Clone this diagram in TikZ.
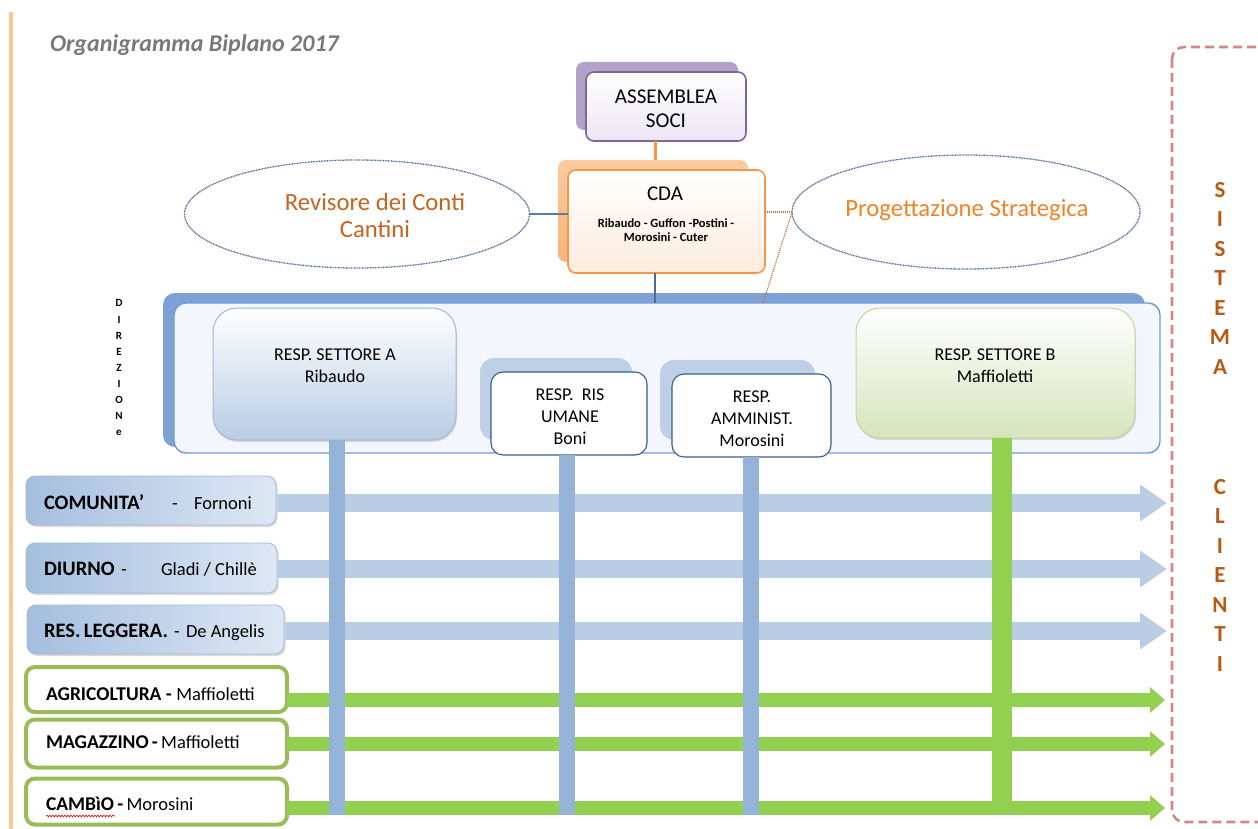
\documentclass[tikz,border=0pt]{standalone}
\usepackage{fontspec}
\setmainfont{Carlito}
\usetikzlibrary{shapes.geometric,arrows.meta,shadows,decorations.pathmorphing}
\definecolor{titlegray}{RGB}{120,120,125}
\definecolor{lineorange}{RGB}{255,200,145}
\definecolor{purpB}{RGB}{128,100,162}
\definecolor{purpS}{RGB}{179,162,199}
\definecolor{purpL}{RGB}{236,230,244}
\definecolor{orgB}{RGB}{247,150,70}
\definecolor{orgS}{RGB}{250,180,120}
\definecolor{orgL}{RGB}{253,236,222}
\definecolor{ellB}{RGB}{80,105,145}
\definecolor{revtxt}{RGB}{197,100,30}
\definecolor{progtxt}{RGB}{240,130,40}
\definecolor{dirB}{RGB}{111,155,209}
\definecolor{dirS}{RGB}{126,161,214}
\definecolor{dirF}{RGB}{243,246,252}
\definecolor{saB}{RGB}{160,185,215}
\definecolor{saL}{RGB}{185,205,229}
\definecolor{ruB}{RGB}{56,93,138}
\definecolor{ruS}{RGB}{190,208,230}
\definecolor{sbB}{RGB}{195,214,155}
\definecolor{sbL}{RGB}{215,228,189}
\definecolor{barblue}{RGB}{149,179,215}
\definecolor{arrblue}{RGB}{185,205,229}
\definecolor{grn}{RGB}{146,208,80}
\definecolor{grnB}{RGB}{155,187,89}
\definecolor{rowL}{RGB}{165,190,222}
\definecolor{rowR}{RGB}{222,232,244}
\definecolor{redD}{RGB}{212,135,135}
\definecolor{sistxt}{RGB}{185,90,20}
\definecolor{cnbrown}{RGB}{190,120,70}
\tikzset{
  base/.style={inner sep=0pt, outer sep=0pt},
  ttl/.style={base, anchor=west, font=\fontsize{24}{28}\selectfont\bfseries\itshape, text=titlegray},
  bigtxt/.style={base, align=center, font=\fontsize{21}{24}\selectfont},
  smalltxt/.style={base, align=center, font=\fontsize{12.5}{14.5}\selectfont\bfseries},
  midtxt/.style={base, align=center, font=\fontsize{18}{22}\selectfont},
  elltxt/.style={base, align=center, font=\fontsize{24.7}{27}\selectfont},
  rowbold/.style={base, anchor=base west, font=\fontsize{20.5}{22}\selectfont\bfseries},
  rowname/.style={base, anchor=base west, font=\fontsize{18.5}{22}\selectfont},
  vlet/.style={base, font=\fontsize{23}{24}\selectfont\bfseries, text=sistxt},
  dlet/.style={base, font=\fontsize{11}{12}\selectfont\bfseries},
  ellnode/.style={base, ellipse, draw=ellB, line width=1.3pt, dash pattern=on 0.9pt off 0.7pt, fill=white},
  purpshadow/.style={base, rectangle, rounded corners=8pt, fill=purpS},
  purpbox/.style={base, rectangle, rounded corners=8pt, draw=purpB, line width=1.6pt, top color=white, bottom color=purpL},
  orgshadow/.style={base, rectangle, rounded corners=8pt, top color=orgS!70, bottom color=orgS},
  orgbox/.style={base, rectangle, rounded corners=8pt, draw=orgB, line width=1.6pt, top color=white, bottom color=orgL},
  dirback/.style={base, rectangle, rounded corners=12pt, fill=dirS},
  dirfront/.style={base, rectangle, rounded corners=12pt, draw=dirB, line width=1.4pt, fill=dirF},
  sabox/.style={base, rectangle, rounded corners=24pt, draw=saB, line width=1pt, top color=white, bottom color=saL, drop shadow={opacity=0.25, shadow xshift=1pt, shadow yshift=-2pt}},
  sbbox/.style={base, rectangle, rounded corners=24pt, draw=sbB, line width=1pt, top color=white, bottom color=sbL, drop shadow={opacity=0.25, shadow xshift=1pt, shadow yshift=-2pt}},
  smshadow/.style={base, rectangle, rounded corners=14pt, fill=ruS},
  smbox/.style={base, rectangle, rounded corners=12pt, draw=ruB, line width=1.1pt, fill=white},
  rowbox/.style={base, rectangle, rounded corners=9pt, draw=saB, line width=0.8pt, left color=rowL, right color=rowR, drop shadow={opacity=0.3, shadow xshift=1.5pt, shadow yshift=-2pt}},
  grnbox/.style={base, rectangle, rounded corners=9pt, draw=grnB, line width=4pt, fill=white},
  barrow/.style={line width=18pt, arrblue, -{Triangle[length=27pt, width=35pt]}},
  garrow/.style={line width=14pt, grn, -{Triangle[length=15pt, width=25pt]}},
  vbar/.style={line width=16pt, barblue},
  gbar/.style={line width=20pt, grn},
}
\begin{document}
\begin{tikzpicture}[x=1pt,y=-1pt]
\useasboundingbox (0,0) rectangle (1258,829);
% left orange rule
\coordinate (ol1) at (11,12);
\coordinate (ol2) at (11,829);
\draw[lineorange, line width=4pt] (ol1) -- (ol2);
% title
\node[ttl] (title) at (50,45) {Organigramma Biplano 2017};

% red dashed frame
\draw[redD, line width=2.6pt, dash pattern=on 9pt off 5pt, rounded corners=12pt] (1172,47) rectangle (1300,822);
\foreach \l/\yy [count=\i] in {S/190,I/219.5,S/249,T/278.5,E/308,M/337.5,A/367}
  \node[vlet] (sis\i) at (1220,\yy) {\l};
\foreach \l/\yy [count=\i] in {C/487,L/516.5,I/546,E/575.5,N/605,T/634.5,I/664}
  \node[vlet] (cli\i) at (1220,\yy) {\l};

% ASSEMBLEA
\node[purpshadow, minimum width=162pt, minimum height=68pt] (asmbS) at (657,96) {};
\node[purpbox, minimum width=160pt, minimum height=69pt] (asmb) at (666,106.5) {};
\node[bigtxt] (asmbT) at (666,109) {ASSEMBLEA\\SOCI};

% CDA
\coordinate (c1) at (655,141);
\coordinate (c2) at (655,171);
\draw[orgB, line width=3pt] (c1) -- (c2);
\node[orgshadow, minimum width=190pt, minimum height=102pt] (cdaS) at (653,211) {};
\node[orgbox, minimum width=197pt, minimum height=103pt] (cda) at (666.5,221.5) {};
\node[bigtxt] (cdaT) at (665,194) {CDA};
\node[smalltxt] (cdaN) at (666,230) {Ribaudo - Guffon -Postini -\\Morosini - Cuter};

% ellipses
\node[ellnode, minimum width=345pt, minimum height=108pt] (rev) at (357,214) {};
\node[elltxt, text=revtxt] (revT) at (375,216) {Revisore dei Conti\\Cantini};
\node[ellnode, minimum width=348pt, minimum height=114pt] (prog) at (966,212) {};
\node[elltxt, text=progtxt] (progT) at (967,210) {Progettazione Strategica};
\draw[dirB!80!black, line width=1.2pt] (rev.east) -- (rev.east -| cda.west);
\draw[cnbrown, line width=1.3pt, dash pattern=on 1pt off 1pt] (cda.east |- prog.west) -- (prog.west);

% Direzione
\node[dirback, minimum width=982pt, minimum height=154pt] (dirS) at (654,370) {};
\node[dirfront, minimum width=986pt, minimum height=150pt] (dir) at (667,378) {};
\coordinate (d1) at (655,273);
\coordinate (d2) at (655,303);
\draw[dirB!70!black, line width=2.2pt] (d1) -- (d2);
\coordinate (pd) at (763,303);
\draw[cnbrown, line width=1.3pt, dash pattern=on 1pt off 1pt] (prog.west) -- (pd);
\foreach \l/\yy [count=\i] in {D/303,I/319.5,R/336,E/352,Z/368,I/384,O/400,N/416,e/433}
  \node[dlet] (dz\i) at (119,\yy) {\l};

% managers
\node[sabox, minimum width=243pt, minimum height=132pt] (sa) at (334.5,374) {};
\node[midtxt] (saT) at (335,365.5) {RESP. SETTORE A\\Ribaudo};
\node[smshadow, minimum width=152pt, minimum height=82pt] (ruS) at (556,399) {};
\node[smbox, minimum width=156pt, minimum height=83pt] (ru) at (569,413.5) {};
\node[midtxt] (ruT) at (570,417) {RESP.\ \ RIS\\UMANE\\Boni};
\node[smshadow, minimum width=155pt, minimum height=80pt] (amS) at (737.5,400) {};
\node[smbox, minimum width=159pt, minimum height=83pt] (am) at (751.5,415.5) {};
\node[midtxt] (amT) at (752,418.5) {RESP.\\AMMINIST.\\Morosini};
\node[sbbox, minimum width=279pt, minimum height=130pt] (sb) at (995.5,373) {};
\node[midtxt] (sbT) at (995,365.5) {RESP. SETTORE B\\Maffioletti};

% rows
\node[rowbox, minimum width=250pt, minimum height=49pt] (com) at (151,500.5) {};
\node[rowbox, minimum width=251pt, minimum height=50pt] (diu) at (151.5,568) {};
\node[rowbox, minimum width=257pt, minimum height=49pt] (res) at (155.5,629.5) {};
\node[grnbox, minimum width=261pt, minimum height=45pt] (agr) at (156.5,689.5) {};
\node[grnbox, minimum width=261pt, minimum height=48pt] (mag) at (156.5,743.5) {};
\node[grnbox, minimum width=261pt, minimum height=46pt] (cam) at (156.5,801.5) {};

\node[rowbold] (comT) at (44,509.5) {COMUNITA’};
\node[rowname] (comD) at (172,509.5) {-};
\node[rowname] (comN) at (194,509.5) {Fornoni};
\node[rowbold] (diuT) at (44,575.5) {DIURNO};
\node[rowname] (diuD) at (121,575.5) {-};
\node[rowname] (diuN) at (161,575.5) {Gladi / Chillè};
\node[rowbold] (resT) at (44,637.5) {RES.\,LEGGERA.};
\node[rowname] (resD) at (174,637.5) {-};
\node[rowname] (resN) at (186,637.5) {De Angelis};
\node[rowbold, font=\fontsize{19.5}{22}\selectfont\bfseries] (agrT) at (46,700) {AGRICOLTURA - \fontsize{18.5}{22}\selectfont\mdseries Maffioletti};
\node[rowbold, font=\fontsize{19.5}{22}\selectfont\bfseries] (magT) at (46,748) {MAGAZZINO\,-\,\fontsize{18.5}{22}\selectfont\mdseries Maffioletti};
\node[rowbold, font=\fontsize{19.5}{22}\selectfont\bfseries] (camT) at (46,810) {CAMBìO\,-\,\fontsize{18.5}{22}\selectfont\mdseries Morosini};
\coordinate (sq1) at (46,816);
\coordinate (sq2) at (115,816);
\draw[red, line width=0.6pt, decorate, decoration={snake, amplitude=0.9pt, segment length=3pt}] (sq1) -- (sq2);

% arrows
\coordinate (e1) at (1167,503);
\coordinate (e2) at (1167,569);
\coordinate (e3) at (1167,631);
\coordinate (e4) at (1165,700);
\coordinate (e5) at (1165,744);
\coordinate (e6) at (1165,808);
\draw[barrow] (com.east |- e1) -- (e1);
\draw[barrow] (diu.east |- e2) -- (e2);
\draw[barrow] (res.east |- e3) -- (e3);
\draw[garrow] (agr.east |- e4) -- (e4);
\draw[garrow] (mag.east |- e5) -- (e5);
\draw[garrow] (cam.east |- e6) -- (e6);

% vertical bars
\coordinate (b1) at (337,815);
\coordinate (b2) at (566.5,815);
\coordinate (b3) at (751,815);
\coordinate (b4) at (1002,815);
\draw[vbar] (b1 |- sa.south) -- (b1);
\draw[vbar] (b2 |- ru.south) -- (b2);
\draw[vbar] (b3 |- am.south) -- (b3);
\draw[gbar] (b4 |- sb.south) -- (b4);
\end{tikzpicture}
\end{document}
